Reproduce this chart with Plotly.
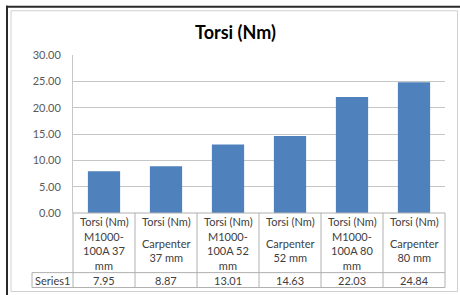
import plotly.graph_objects as go

# ---- data ----
series_name = "Series1"
header_label = "Torsi (Nm)"
categories = ["M1000-100A 37 mm", "Carpenter 37 mm", "M1000-100A 52 mm",
              "Carpenter 52 mm", "M1000-100A 80 mm", "Carpenter 80 mm"]
category_labels = ["M1000-<br>100A 37<br>mm", "Carpenter<br>37 mm", "M1000-<br>100A 52<br>mm",
                   "Carpenter<br>52 mm", "M1000-<br>100A 80<br>mm", "Carpenter<br>80 mm"]
values = [7.95, 8.87, 13.01, 14.63, 22.03, 24.84]
value_labels = ["7.95", "8.87", "13.01", "14.63", "22.03", "24.84"]
y_ticks = [0, 5, 10, 15, 20, 25, 30]

# ---- layout constants (pixels) ----
W, H = 460, 295
PL, PR = 73, 445        # plot area left/right
PT, PB = 54.5, 213.5    # plot area top/bottom
n = len(categories)

def py(p):   # pixel y -> paper y
    return (PB - p) / (PB - PT)

def px(p):   # pixel x -> paper x
    return (p - PL) / (PR - PL)

def cat_edge(i):  # paper x of boundary left of category i
    return i / n

fig = go.Figure()
fig.add_trace(go.Bar(x=list(range(n)), y=values, width=0.52,
                     marker=dict(color="#4F81BD", line=dict(width=0)),
                     name=series_name, showlegend=False, hoverinfo="y"))

grid_c = "#C6C6C6"
table_c = "#B0B0B0"
text_c = "#404040"
font_family = "Lato"

shapes = []
# table vertical lines (category boundaries)
for i in range(n + 1):
    shapes.append(dict(type="line", xref="paper", yref="paper",
                       x0=cat_edge(i), x1=cat_edge(i), y0=0, y1=py(288.5),
                       line=dict(color=table_c, width=1)))
# table top (x axis line)
shapes.append(dict(type="line", xref="paper", yref="paper", x0=0, x1=1, y0=0, y1=0,
                   line=dict(color=table_c, width=1)))
# series row lines
for yy in (273.5, 288.5):
    shapes.append(dict(type="line", xref="paper", yref="paper", x0=px(32), x1=1, y0=py(yy), y1=py(yy),
                       line=dict(color=table_c, width=1)))
shapes.append(dict(type="line", xref="paper", yref="paper", x0=px(32), x1=px(32), y0=py(273.5), y1=py(288.5),
                   line=dict(color=table_c, width=1)))
# chart frame
shapes.append(dict(type="rect", xref="paper", yref="paper", x0=px(11), x1=px(457.5), y0=py(292.5), y1=py(10),
                   line=dict(color="#D0D0D0", width=1), layer="below"))
shapes.append(dict(type="line", xref="paper", yref="paper", x0=px(6), x1=px(462), y0=py(6), y1=py(6),
                   line=dict(color="#2A2A2A", width=2)))
shapes.append(dict(type="line", xref="paper", yref="paper", x0=px(7), x1=px(7), y0=py(5), y1=py(300),
                   line=dict(color="#2A2A2A", width=2)))

annotations = []
tfont = dict(family=font_family, size=11, color=text_c)
for i in range(n):
    annotations.append(dict(x=i, xref="x", y=py(222.5), yref="paper", text=header_label,
                            showarrow=False, font=tfont, xanchor="center", yanchor="middle"))
    annotations.append(dict(x=i, xref="x", y=py(251.5), yref="paper", text=category_labels[i],
                            showarrow=False, font=tfont, xanchor="center", yanchor="middle"))
    annotations.append(dict(x=i, xref="x", y=py(281), yref="paper", text=value_labels[i],
                            showarrow=False, font=tfont, xanchor="center", yanchor="middle"))
annotations.append(dict(x=px(52.5), xref="paper", y=py(281), yref="paper", text=series_name,
                        showarrow=False, font=tfont, xanchor="center", yanchor="middle"))
# title
annotations.append(dict(x=px(235), xref="paper", y=py(31), yref="paper", text="<b>Torsi (Nm)</b>",
                        showarrow=False, font=dict(family=font_family, size=18, color="#000000"),
                        xanchor="center", yanchor="middle"))

fig.update_layout(
    width=W, height=H,
    margin=dict(l=PL, r=W - PR, t=PT, b=H - PB, pad=0),
    paper_bgcolor="white", plot_bgcolor="white",
    shapes=shapes, annotations=annotations,
    xaxis=dict(range=[-0.5, n - 0.5], showticklabels=False, showgrid=False, zeroline=False,
               showline=False, ticks="", fixedrange=True),
    yaxis=dict(range=[0, 30], tickvals=y_ticks, tickformat=".2f", showgrid=True, gridcolor=grid_c,
               gridwidth=1, zeroline=False, showline=True, linecolor=grid_c, linewidth=1,
               ticks="outside", ticklen=9, tickcolor="rgba(0,0,0,0)",
               tickfont=dict(family=font_family, size=11, color="#595959"), fixedrange=True),
    bargap=0.48,
    showlegend=False,
)

fig.write_html("out.html", config={"displayModeBar": False},
               post_script="document.body.style.margin='0';document.body.style.overflow='hidden';")
